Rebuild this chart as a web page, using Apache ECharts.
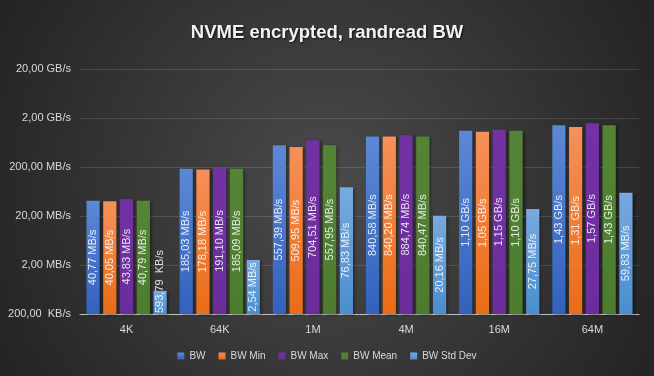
<!DOCTYPE html>
<html><head><meta charset="utf-8">
<script src="https://cdn.jsdelivr.net/npm/echarts@6/dist/echarts.min.js"></script>
<style>html,body{margin:0;padding:0;background:#333;}#c{width:654px;height:376px;}</style>
</head><body><div id="c"></div>
<script>
// values in MB/s
const categories = ['4K','64K','1M','4M','16M','64M'];
const seriesNames = ['BW','BW Min','BW Max','BW Mean','BW Std Dev'];
const bw      = [40.77, 185.03, 557.39, 840.58, 1100, 1430];
const bwMin   = [40.05, 178.18, 509.95, 840.20, 1050, 1310];
const bwMax   = [43.83, 191.10, 704.51, 884.74, 1150, 1570];
const bwMean  = [40.79, 185.09, 557.95, 840.47, 1100, 1430];
const bwStd   = [0.59379, 2.54, 76.83, 20.16, 27.75, 59.83];
const tickUnitMB = 0.2; // bottom of the log axis: 200 KB/s
const tickLabels = ['200,00  KB/s','2,00 MB/s','20,00 MB/s','200,00 MB/s','2,00 GB/s','20,00 GB/s'];

const colorsTop = ['#5d88d6','#f6905a','#7232a3','#548536','#78aade'];
const colorsBot = ['#3262bd','#ea6c16','#6c2d9c','#4d7c2e','#4a8ecf'];

function fmt(mb){
  let v, u;
  if (mb < 1) { v = mb*1000; u = '  KB/s'; }
  else if (mb >= 1000) { v = mb/1000; u = ' GB/s'; }
  else { v = mb; u = ' MB/s'; }
  return v.toFixed(2).replace('.', ',') + u;
}

const allData = [bw, bwMin, bwMax, bwMean, bwStd];
const font = 'Liberation Sans, Arial, sans-serif';

const series = allData.map((arr, si) => ({
  name: seriesNames[si],
  type: 'bar',
  barWidth: 13.2,
  barGap: '27%',
  itemStyle: {
    color: {type:'linear', x:0, y:0, x2:0, y2:1, colorStops:[{offset:0,color:colorsTop[si]},{offset:1,color:colorsBot[si]}]},
    shadowColor: 'rgba(0,0,0,0.45)', shadowBlur: 3, shadowOffsetX: 2, shadowOffsetY: 1
  },
  label: {
    show: true, position: 'inside', rotate: 90,
    color: 'rgba(255,255,255,0.85)', fontSize: 11, fontFamily: font,
    formatter: p => fmt(arr[p.dataIndex])
  },
  data: arr.map((v, i) => {
    const item = { value: v / tickUnitMB };
    // label of a bar too short for its text sits on the axis, as in the reference
    if (si === 4 && i === 0) {
      item.label = { position: 'insideBottom', distance: 1, align: 'left', verticalAlign: 'middle' };
    }
    return item;
  })
}));

const chart = echarts.init(document.getElementById('c'), null, {renderer:'canvas'});
chart.setOption({
  backgroundColor: {type:'radial', x:0.5, y:0.5, r:0.95, colorStops:[{offset:0,color:'#4b4b4b'},{offset:1,color:'#252525'}]},
  animation: false,
  title: {
    text: 'NVME encrypted, randread BW', left: 'center', top: 18,
    textStyle: { color: '#f2f2f2', fontSize: 18.5, fontWeight: 'bold', fontFamily: font,
      textShadowColor: 'rgba(0,0,0,0.7)', textShadowBlur: 2, textShadowOffsetX: 1, textShadowOffsetY: 1 }
  },
  legend: {
    data: seriesNames, bottom: 10, left: 'center',
    itemWidth: 7, itemHeight: 7, itemGap: 13, icon: 'rect',
    textStyle: { color: '#d9d9d9', fontSize: 10, fontFamily: font }
  },
  grid: { left: 80, right: 15, top: 69, bottom: 62 },
  xAxis: {
    type: 'category', data: categories,
    axisLine: { lineStyle: { color: '#bfbfbf', width: 1 } },
    axisTick: { show: false },
    axisLabel: { color: '#d9d9d9', fontSize: 11, fontFamily: font, margin: 10 }
  },
  yAxis: {
    type: 'log', logBase: 10, min: 1, max: 100000,
    axisLine: { show: false }, axisTick: { show: false },
    splitLine: { lineStyle: { color: 'rgba(255,255,255,0.13)', width: 1 } },
    axisLabel: {
      color: '#d9d9d9', fontSize: 11, fontFamily: font, margin: 9,
      formatter: v => tickLabels[Math.round(Math.log10(v))]
    }
  },
  series: series
});
</script></body></html>
